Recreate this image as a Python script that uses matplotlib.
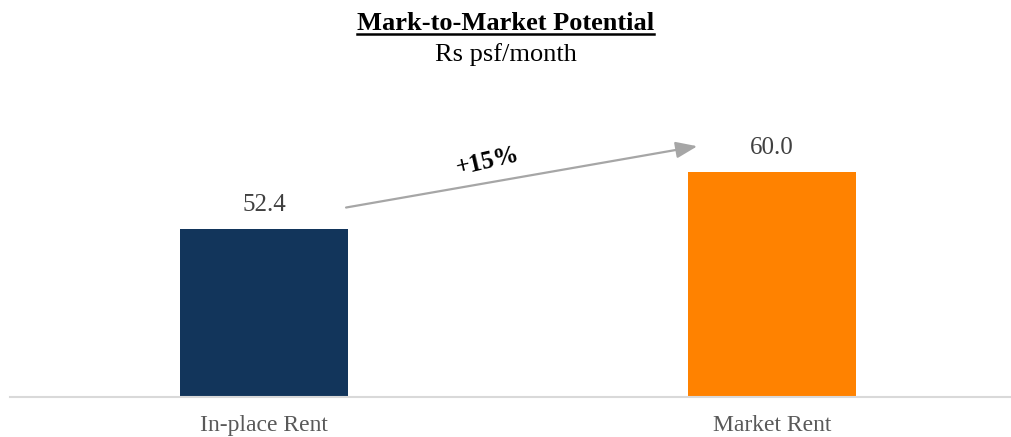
import matplotlib.pyplot as plt
from matplotlib.lines import Line2D

plt.rcParams['font.family'] = ['Liberation Serif', 'DejaVu Serif']

categories = ['In-place Rent', 'Market Rent']
rents = [52.4, 60.0]
bar_colors = ['#12355B', '#FF8200']
growth_label = '+15%'

fig = plt.figure(figsize=(10.11, 4.37), dpi=100)
ax = fig.add_axes([10/1011, 40/437, 1001/1011, 297/437])

x = list(range(len(categories)))
ax.bar(x, rents, width=0.33, color=bar_colors)
for xi, v in zip(x, rents):
    ax.annotate(f'{v:.1f}', (xi, v), xytext=(0, 17.5), textcoords='offset points',
                ha='center', va='center', fontsize=18, color='#404040')

# value axis does not start at zero
ax.set_xlim(-0.5, 1.47)
ax.set_ylim(30, 69.6)
ax.set_xticks(x)
ax.set_xticklabels(categories, fontsize=17, color='#595959')
ax.tick_params(axis='x', length=0, pad=13)
ax.set_yticks([])
for s in ['top', 'right', 'left']:
    ax.spines[s].set_visible(False)
ax.spines['bottom'].set_color('#D9D9D9')
ax.spines['bottom'].set_linewidth(1.5)

# growth arrow between the two bars
ax.annotate('', xy=(0.858, 63.5), xytext=(0.156, 55.2),
            arrowprops=dict(arrowstyle='-|>,head_length=1.3,head_width=0.5',
                            color='#A6A6A6', lw=1.6))
ax.text(0.44, 61.4, growth_label, rotation=13, ha='center', va='center',
        fontsize=18, fontweight='bold', color='black')

t = fig.text(0.5, 1 - 24/437, 'Mark-to-Market Potential', ha='center', va='center',
             fontsize=19, fontweight='bold')
fig.text(0.5, 1 - 55/437, 'Rs psf/month', ha='center', va='center', fontsize=19)

# underline the title
fig.canvas.draw()
bb = t.get_window_extent().transformed(fig.transFigure.inverted())
fig.add_artist(Line2D([bb.x0, bb.x1], [bb.y0 + 0.004, bb.y0 + 0.004],
                      transform=fig.transFigure, color='black', lw=1.8))

fig.savefig('out.png', dpi=100)
